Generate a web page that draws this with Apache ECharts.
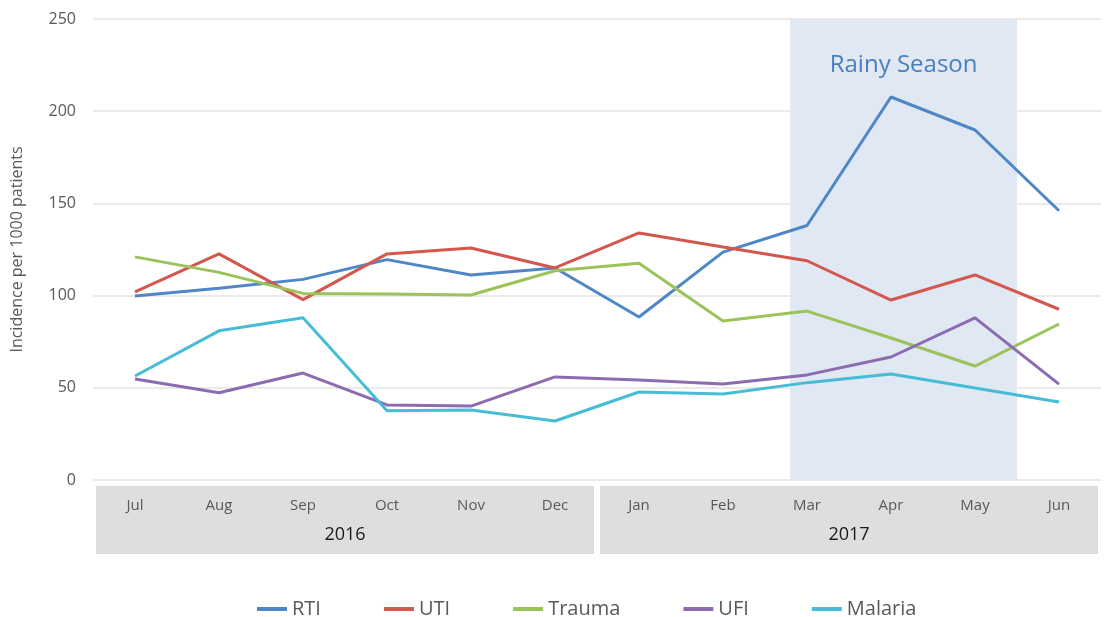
<!DOCTYPE html>
<html>
<head>
<meta charset="utf-8">
<script src="https://cdn.jsdelivr.net/npm/echarts@6/dist/echarts.min.js"></script>
<style>
  html, body { margin: 0; padding: 0; background: #fff; }
  #chart { width: 1104px; height: 617px; }
</style>
</head>
<body>
<div id="chart"></div>
<script>
// months and years on the x axis
const months = ["Jul", "Aug", "Sep", "Oct", "Nov", "Dec", "Jan", "Feb", "Mar", "Apr", "May", "Jun"];
const years = ["2016", "2017"];

// incidence per 1000 patients
const rti = [99.8, 104, 108.8, 119.5, 111.2, 115, 88.4, 123.6, 138, 207.7, 189.8, 146];
const uti = [102, 122.6, 97.8, 122.6, 125.8, 115, 134, 126.4, 118.9, 97.6, 111.2, 92.6];
const trauma = [121, 112.6, 101.2, 100.9, 100.3, 113.5, 117.5, 86.2, 91.6, 77, 61.8, 84.6];
const ufi = [54.8, 47.3, 58, 40.7, 40.1, 55.9, 54.2, 52, 57, 66.7, 87.9, 52];
const malaria = [56.4, 80.9, 88, 37.5, 38, 32, 47.7, 46.6, 52.8, 57.5, 49.9, 42.3];

// rainy season band, in month-index units (0..12)
const rainyStart = 8.3;
const rainyEnd = 11;

const seriesNames = ["RTI", "UTI", "Trauma", "UFI", "Malaria"];
const seriesData = [rti, uti, trauma, ufi, malaria];
const colors = ["#4f86c6", "#d4574e", "#9bc35a", "#8c6bb1", "#46bdd4"];

const font = "'Open Sans', sans-serif";
const chart = echarts.init(document.getElementById("chart"));

const lines = seriesNames.map((name, i) => ({
  name: name,
  type: "line",
  data: seriesData[i],
  symbol: "none",
  z: 3,
  lineStyle: { width: 3, color: colors[i] },
  itemStyle: { color: colors[i] },
}));

chart.setOption({
  animation: false,
  textStyle: { fontFamily: font },
  grid: { left: 93, right: 3, top: 19, bottom: 137 },
  legend: {
    data: seriesNames,
    top: 594,
    left: 252,
    itemWidth: 30,
    itemHeight: 4,
    itemGap: 63,
    icon: "rect",
    textStyle: { fontSize: 20, color: "#595959", fontFamily: font },
  },
  xAxis: [
    {
      type: "category",
      data: months,
      z: 3,
      axisLine: { show: false },
      axisTick: { show: false },
      axisLabel: { margin: 18, fontSize: 15, color: "#595959", interval: 0 },
    },
    {
      type: "category",
      data: years,
      position: "bottom",
      z: 1,
      axisLine: { show: false },
      axisTick: { show: false },
      axisLabel: {
        interval: 0,
        margin: 6,
        fontSize: 18,
        color: "#1a1a1a",
        backgroundColor: "#dedede",
        width: 498,
        lineHeight: 18,
        align: "center",
        padding: [40, 0, 10, 0],
      },
    },
    {
      type: "value",
      min: 0,
      max: months.length,
      show: false,
    },
  ],
  yAxis: {
    type: "value",
    min: 0,
    max: 250,
    interval: 50,
    name: "Incidence per 1000 patients",
    nameLocation: "middle",
    nameGap: 68,
    nameTextStyle: { fontSize: 16, color: "#595959" },
    axisLine: { show: false },
    axisTick: { show: false },
    axisLabel: { fontSize: 16, color: "#595959", margin: 17 },
    splitLine: { lineStyle: { color: "#e3e3e3", width: 1.5 } },
  },
  series: [
    {
      name: "rainy",
      type: "line",
      xAxisIndex: 2,
      data: [],
      z: 1,
      markArea: {
        silent: true,
        itemStyle: { color: "#dfe8f3" },
        label: {
          show: true,
          position: "insideTop",
          distance: 34,
          fontSize: 24,
          color: "#4a7ebf",
          fontFamily: font,
        },
        data: [[{ name: "Rainy Season", xAxis: rainyStart }, { xAxis: rainyEnd }]],
      },
    },
    ...lines,
  ],
});
</script>
</body>
</html>
